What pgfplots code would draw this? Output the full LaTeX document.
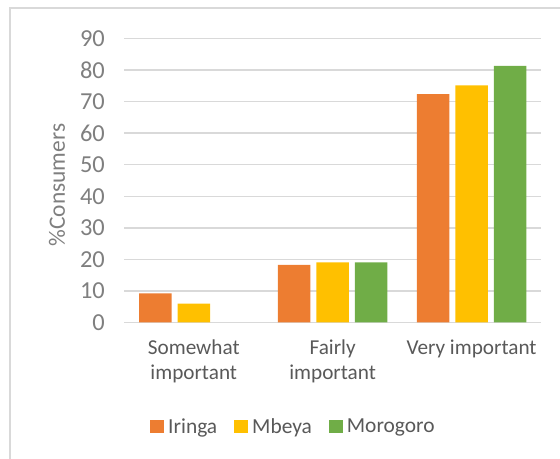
\documentclass[border=0pt]{standalone}
\usepackage{pgfplots}
\pgfplotsset{compat=1.18}
\usepackage{fontspec}
\setmainfont{Carlito}
\definecolor{cIr}{HTML}{ED7D31}
\definecolor{cMb}{HTML}{FFC000}
\definecolor{cMo}{HTML}{70AD47}
\definecolor{gridc}{HTML}{D9D9D9}
\definecolor{tickc}{HTML}{7F7F7F}
\definecolor{txtc}{HTML}{595959}
\begin{document}
\begin{tikzpicture}[x=1bp,y=1bp]
\useasboundingbox (0,0) rectangle (560,459);
\draw[gridc, line width=1.2bp] (10,0) -- (10,451) -- (560,451);
\begin{axis}[
  at={(124.3bp,136.7bp)}, anchor=south west,
  scale only axis, width=416.7bp, height=283.6bp,
  ybar, bar width=32.5bp,
  xmin=-0.5, xmax=2.5, ymin=0, ymax=90,
  xtick={0,1,2},
  xticklabels={{Somewhat\\important},{Fairly\\important},{Very important}},
  ytick={0,10,...,90},
  axis line style={draw=none},
  major tick length=0pt,
  ymajorgrids, grid style={gridc, line width=1.5bp},
  yticklabel style={font=\fontsize{24.5}{26}\selectfont, text=tickc, xshift=-16bp},
  xticklabel style={font=\fontsize{21.3}{25.5}\selectfont, text=txtc, align=center, anchor=north, yshift=-14bp},
  ylabel={\%Consumers},
  ylabel style={font=\fontsize{23.5}{26}\selectfont, text=tickc, at={(axis description cs:-0.1615,0.484)}, anchor=center},
  legend columns=3,
  legend style={draw=none, font=\fontsize{21.5}{23}\selectfont, text=txtc,
    at={(axis description cs:0.4058,-0.3671)}, anchor=center,
    /tikz/every even column/.append style={column sep=15bp},
    /tikz/every odd column/.append style={column sep=2bp}},
  legend image code/.code={\fill[#1] (0bp,-6.5bp) rectangle (14bp,6.5bp);},
  /pgf/number format/assume math mode=true,
]
\addplot[fill=cIr, draw=none, bar shift=-38.5bp] coordinates {(0,9.2) (1,18.2) (2,72.4)};
\addplot[fill=cMb, draw=none, bar shift=0bp] coordinates {(0,5.9) (1,19.0) (2,75.2)};
\addplot[fill=cMo, draw=none, bar shift=38.5bp] coordinates {(1,19.0) (2,81.4)};
\legend{Iringa,Mbeya,Morogoro}
\end{axis}
\end{tikzpicture}
\end{document}
